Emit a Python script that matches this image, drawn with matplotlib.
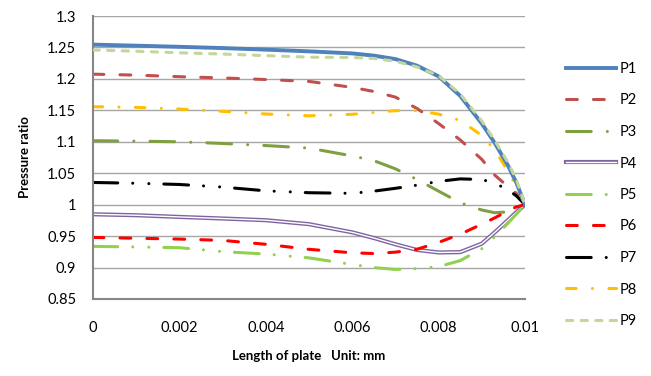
import numpy as np
import matplotlib.pyplot as plt
from matplotlib.ticker import FuncFormatter

plt.rcParams['font.family'] = ['Lato', 'DejaVu Sans']
plt.rcParams['lines.scale_dashes'] = False

# plate position (mm)
x = [0, 0.001, 0.002, 0.003, 0.004, 0.005, 0.006, 0.0065, 0.007, 0.0075,
     0.008, 0.0085, 0.009, 0.0093, 0.0096, 0.0098, 0.01]

p1 = [1.2545, 1.2528, 1.251, 1.249, 1.2465, 1.2438, 1.2405, 1.237, 1.2315, 1.221,
      1.204, 1.173, 1.129, 1.098, 1.063, 1.035, 1.0]
p2 = [1.2075, 1.206, 1.2035, 1.2015, 1.199, 1.196, 1.1865, 1.18, 1.171, 1.153,
      1.129, 1.103, 1.072, 1.047, 1.029, 1.018, 1.0]
p3 = [1.1017, 1.101, 1.1, 1.0973, 1.094, 1.09, 1.0775, 1.07, 1.057, 1.04,
      1.0215, 1.003, 0.9915, 0.9872, 0.9885, 0.992, 1.0]
p4 = [0.9847, 0.9832, 0.9805, 0.978, 0.9753, 0.969, 0.956, 0.947, 0.937, 0.928,
      0.924, 0.9245, 0.938, 0.956, 0.975, 0.988, 1.0]
p5 = [0.9337, 0.9327, 0.9316, 0.9253, 0.9215, 0.9154, 0.9048, 0.9, 0.897, 0.8982,
      0.9015, 0.911, 0.93, 0.949, 0.97, 0.985, 1.0]
p6 = [0.9479, 0.9466, 0.9453, 0.9432, 0.937, 0.929, 0.9235, 0.9223, 0.9245, 0.929,
      0.94, 0.953, 0.969, 0.979, 0.99, 0.9965, 1.0]
p7 = [1.0353, 1.034, 1.0321, 1.028, 1.022, 1.019, 1.018, 1.0215, 1.026, 1.031,
      1.037, 1.041, 1.04, 1.034, 1.024, 1.014, 1.0]
p8 = [1.1558, 1.1547, 1.1521, 1.1484, 1.1442, 1.1413, 1.1437, 1.1465, 1.1495, 1.1495,
      1.144, 1.134, 1.11, 1.087, 1.054, 1.029, 1.0]
p9 = [1.246, 1.244, 1.2415, 1.2395, 1.237, 1.2345, 1.234, 1.2325, 1.228, 1.219,
      1.205, 1.176, 1.133, 1.102, 1.068, 1.04, 1.0]

xticks = [0, 0.002, 0.004, 0.006, 0.008, 0.01]
yticks = [0.85, 0.9, 0.95, 1.0, 1.05, 1.1, 1.15, 1.2, 1.25, 1.3]

fig = plt.figure(figsize=(6.51, 3.76), dpi=100)
ax = fig.add_axes([93/651, 1-299/376, 432/651, 283/376])

lw = 2.2
dash = (7.8, 11.6)
sq = (4.5, 6.0)
dash_dot = (6.9, 11.8, 0.01, 11.8)
long_dash_dot = (17.8, 11.6, 0.01, 11.6)
long_dash_dot_dot = (17.8, 10.8, 0.01, 11.6, 0.01, 10.8)

kw = dict(lw=lw, dash_capstyle='round', solid_capstyle='round')
l1, = ax.plot(x, p1, color='#4F81BD', lw=2.8, label='P1', zorder=5)
l2, = ax.plot(x, p2, color='#C0504D', dashes=dash, label='P2', **kw)
l3, = ax.plot(x, p3, color='#7F9F43', dashes=long_dash_dot, label='P3', **kw)
l4a, = ax.plot(x, p4, color='#8064A2', lw=3.0)
l4b, = ax.plot(x, p4, color='white', lw=1.0)
l5, = ax.plot(x, p5, color='#92D050', dashes=long_dash_dot_dot, label='P5', **kw)
l6, = ax.plot(x, p6, color='#FF0000', dashes=dash, label='P6', **kw)
l7, = ax.plot(x, p7, color='black', dashes=long_dash_dot_dot, label='P7', **kw)
l8, = ax.plot(x, p8, color='#FFC000', dashes=dash_dot, label='P8', **kw)
l9, = ax.plot(x, p9, color='#C3D69B', dashes=sq, label='P9', zorder=6, **kw)

ax.set_xlim(0, 0.01)
ax.set_ylim(0.85, 1.3)
ax.set_xticks(xticks)
ax.set_yticks(yticks)
ax.xaxis.set_major_formatter(FuncFormatter(lambda v, p: '%g' % round(v, 4)))
ax.yaxis.set_major_formatter(FuncFormatter(lambda v, p: '%g' % round(v, 3)))
ax.tick_params(axis='both', length=0, labelsize=10.5)
ax.tick_params(axis='x', pad=16)
ax.tick_params(axis='y', pad=12)
ax.grid(axis='y', color='#A6A6A6', lw=1.0)
ax.set_axisbelow(True)
for s in ['top', 'right']:
    ax.spines[s].set_visible(False)
for s in ['left', 'bottom']:
    ax.spines[s].set_color('#868686')
    ax.spines[s].set_linewidth(1.5)

ax.set_xlabel('Length of plate   Unit: mm', fontweight='bold', fontsize=9.5, labelpad=11)
ax.set_ylabel('Pressure ratio', fontweight='bold', fontsize=9.5, labelpad=12)

handles = [l1, l2, l3, (l4a, l4b), l5, l6, l7, l8, l9]
labels = ['P1', 'P2', 'P3', 'P4', 'P5', 'P6', 'P7', 'P8', 'P9']
fig.legend(handles, labels, loc='center left', bbox_to_anchor=(566/651, 1-195/376),
           frameon=False, fontsize=10.5, handlelength=3.4, handletextpad=0.3,
           labelspacing=1.2, borderpad=0, borderaxespad=0)

fig.savefig('out.png', dpi=100)
